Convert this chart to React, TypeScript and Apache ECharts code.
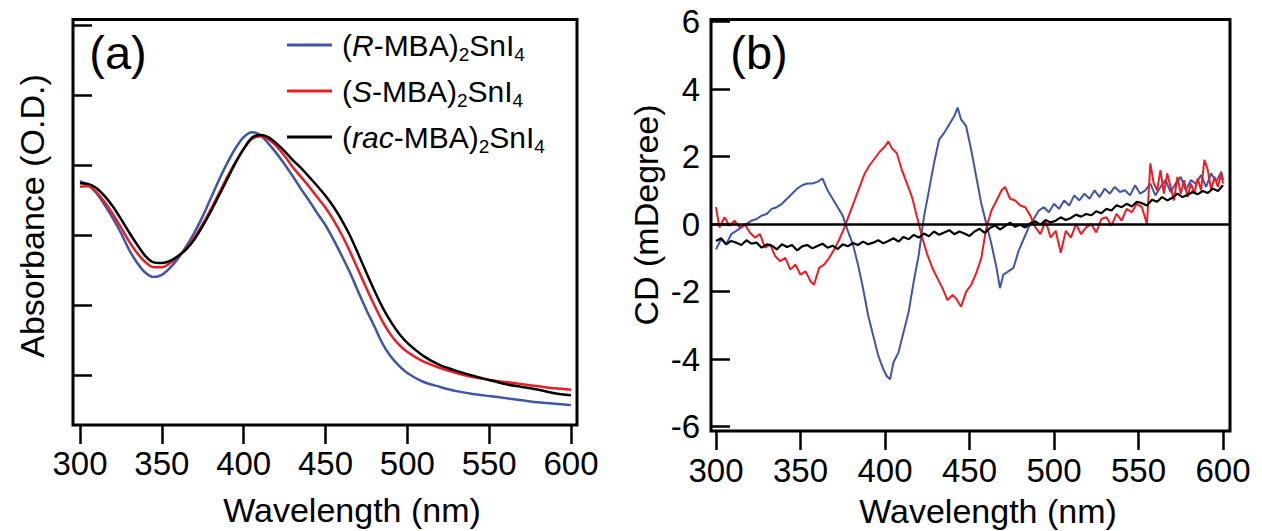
import React, { useEffect, useRef } from "react";
import * as echarts from "echarts";

const FONT = "'Liberation Sans', Arial, Helvetica, sans-serif";
const BLUE = "#3f55a6";
const RED = "#ec1c24";
const BLACK = "#000000";

// Series names
const seriesNames = ["(R-MBA)2SnI4", "(S-MBA)2SnI4", "(rac-MBA)2SnI4"];

// Tick values
const xTicks = [300, 350, 400, 450, 500, 550, 600];
const absTicks = [0.1, 0.2, 0.3, 0.4, 0.5, 0.6];
const cdTicks = [-6, -4, -2, 0, 2, 4, 6];

// Panel (a): absorbance
const absWl = [
  300, 305, 310, 315, 320, 325, 330, 335, 340, 345, 350, 355, 360, 365, 370, 375, 380, 385, 390, 395,
  400, 405, 410, 415, 420, 425, 430, 435, 440, 445, 450, 455, 460, 465, 470, 475, 480, 485, 490, 495,
  500, 510, 520, 530, 540, 550, 560, 570, 580, 590, 600,
];
const absR = [
  0.377, 0.371, 0.36, 0.343, 0.324, 0.303, 0.279, 0.26, 0.246, 0.24, 0.243, 0.253, 0.267, 0.284, 0.304,
  0.327, 0.353, 0.379, 0.403, 0.424, 0.44, 0.447, 0.443, 0.431, 0.417, 0.401, 0.384, 0.366, 0.349, 0.331,
  0.314, 0.293, 0.27, 0.246, 0.219, 0.193, 0.169, 0.144, 0.126, 0.113, 0.103, 0.09, 0.083, 0.077, 0.073,
  0.07, 0.067, 0.064, 0.061, 0.059, 0.057,
];
const absS = [
  0.369, 0.37, 0.361, 0.347, 0.33, 0.311, 0.291, 0.274, 0.261, 0.254, 0.254, 0.26, 0.27, 0.281, 0.297,
  0.316, 0.337, 0.36, 0.383, 0.404, 0.423, 0.437, 0.441, 0.437, 0.427, 0.413, 0.397, 0.383, 0.369, 0.354,
  0.339, 0.321, 0.3, 0.276, 0.25, 0.224, 0.199, 0.176, 0.157, 0.143, 0.133, 0.119, 0.11, 0.103, 0.097,
  0.093, 0.09, 0.087, 0.084, 0.081, 0.079,
];
const absRac = [
  0.374, 0.373, 0.367, 0.356, 0.341, 0.323, 0.304, 0.286, 0.27, 0.261, 0.26, 0.263, 0.27, 0.28, 0.294,
  0.313, 0.334, 0.357, 0.38, 0.403, 0.423, 0.439, 0.443, 0.44, 0.431, 0.42, 0.407, 0.396, 0.383, 0.37,
  0.356, 0.34, 0.321, 0.299, 0.273, 0.246, 0.22, 0.196, 0.176, 0.159, 0.146, 0.127, 0.114, 0.106, 0.099,
  0.093, 0.087, 0.083, 0.079, 0.074, 0.071,
];

// Panel (b): CD, [wavelength, mdeg]
const cdR: [number, number][] = [
  [300, -0.75], [303, -0.45], [306, -0.6], [309, -0.3], [312, -0.2], [315, -0.1], [318, 0.0], [321, 0.1],
  [324, 0.15], [327, 0.25], [330, 0.3], [333, 0.45], [336, 0.5], [339, 0.6], [342, 0.75], [345, 0.9],
  [348, 1.05], [351, 1.15], [354, 1.2], [357, 1.2], [360, 1.25], [363, 1.35], [366, 1.0], [369, 0.75],
  [372, 0.5], [375, 0.25], [378, -0.2], [381, -0.6], [384, -1.2], [387, -1.9], [390, -2.7], [393, -3.3],
  [396, -3.9], [399, -4.3], [401, -4.5], [403, -4.6], [405, -4.1], [408, -3.8], [411, -3.2], [414, -2.6],
  [417, -1.7], [420, -0.9], [423, 0.2], [426, 1.0], [429, 1.8], [432, 2.5], [435, 2.7], [438, 2.95],
  [441, 3.2], [443, 3.45], [445, 3.1], [448, 2.9], [451, 2.2], [454, 1.4], [457, 0.6], [460, 0.0],
  [463, -0.6], [466, -1.3], [468, -1.9], [470, -1.5], [473, -1.4], [476, -1.3], [479, -0.8], [482, -0.45],
  [485, -0.1], [488, 0.15], [491, 0.4], [494, 0.5], [497, 0.35], [500, 0.6], [503, 0.45], [506, 0.7],
  [509, 0.55], [512, 0.85], [515, 0.7], [518, 0.9], [521, 0.75], [524, 1.0], [527, 0.8], [530, 1.05],
  [533, 0.9], [536, 1.1], [539, 0.95], [542, 1.0], [545, 0.85], [548, 1.15], [551, 0.9], [554, 1.0],
  [557, 1.2], [560, 0.85], [563, 1.1], [566, 1.3], [569, 0.95], [572, 1.2], [575, 1.4], [578, 1.0],
  [581, 1.3], [584, 1.2], [587, 1.45], [590, 1.1], [593, 1.5], [596, 1.25], [599, 1.55], [600, 1.3],
];
const cdS: [number, number][] = [
  [300, 0.5], [302, -0.1], [305, 0.2], [308, -0.05], [311, 0.1], [314, -0.1], [317, 0.0], [320, -0.25],
  [323, -0.4], [326, -0.3], [329, -0.7], [332, -0.6], [335, -0.95], [338, -1.1], [341, -1.0], [344, -1.35],
  [347, -1.2], [350, -1.5], [353, -1.4], [356, -1.7], [358, -1.8], [361, -1.3], [364, -1.2], [367, -1.0],
  [370, -0.75], [373, -0.45], [376, -0.1], [379, 0.3], [382, 0.7], [385, 1.1], [388, 1.5], [391, 1.75],
  [394, 1.95], [397, 2.15], [400, 2.3], [402, 2.45], [404, 2.25], [407, 2.1], [410, 1.6], [413, 1.2],
  [416, 0.8], [419, 0.2], [422, -0.4], [425, -0.9], [428, -1.3], [431, -1.6], [434, -1.9], [437, -2.25],
  [440, -2.1], [442, -2.2], [445, -2.45], [448, -2.0], [451, -1.8], [454, -1.45], [457, -1.0], [460, -0.1],
  [463, 0.4], [466, 0.7], [469, 1.0], [471, 1.1], [474, 0.75], [477, 0.7], [480, 0.55], [483, 0.5],
  [486, 0.25], [489, -0.1], [492, -0.3], [495, 0.1], [498, -0.4], [501, -0.2], [504, -0.85], [507, -0.2],
  [510, -0.4], [513, 0.0], [516, -0.3], [519, -0.1], [522, 0.0], [525, -0.25], [528, 0.15], [531, 0.2],
  [534, -0.05], [537, 0.3], [540, 0.1], [543, 0.45], [546, 0.35], [549, 0.6], [552, 0.5], [555, 0.0],
  [557, 1.8], [559, 1.2], [561, 1.0], [563, 1.6], [565, 0.9], [567, 1.5], [569, 1.1], [571, 0.7],
  [573, 1.4], [575, 0.9], [577, 1.3], [579, 0.8], [581, 1.2], [583, 0.9], [585, 1.35], [587, 1.0],
  [589, 1.9], [591, 1.6], [593, 1.0], [595, 1.4], [597, 1.1], [599, 1.5], [600, 1.2],
];
const cdRac: [number, number][] = [
  [300, -0.5], [303, -0.42], [306, -0.6], [309, -0.5], [312, -0.55], [315, -0.62], [318, -0.48], [321, -0.58],
  [324, -0.55], [327, -0.7], [330, -0.6], [333, -0.64], [336, -0.75], [339, -0.6], [342, -0.68], [345, -0.62],
  [348, -0.78], [351, -0.66], [354, -0.62], [357, -0.72], [360, -0.65], [363, -0.58], [366, -0.7], [369, -0.64],
  [372, -0.74], [375, -0.6], [378, -0.66], [381, -0.56], [384, -0.62], [387, -0.52], [390, -0.6], [393, -0.55],
  [396, -0.48], [399, -0.57], [402, -0.5], [405, -0.42], [408, -0.52], [411, -0.38], [414, -0.45], [417, -0.32],
  [420, -0.4], [423, -0.28], [426, -0.36], [429, -0.22], [432, -0.32], [435, -0.25], [438, -0.18], [441, -0.3],
  [444, -0.22], [447, -0.28], [450, -0.35], [453, -0.22], [456, -0.14], [459, -0.26], [462, -0.12], [465, -0.04],
  [468, -0.16], [471, -0.06], [474, 0.04], [477, -0.08], [480, -0.02], [483, -0.1], [486, 0.02], [489, 0.08],
  [492, -0.02], [495, 0.12], [498, 0.05], [501, 0.1], [504, 0.2], [507, 0.12], [510, 0.18], [513, 0.28],
  [516, 0.22], [519, 0.3], [522, 0.26], [525, 0.38], [528, 0.32], [531, 0.45], [534, 0.4], [537, 0.56],
  [540, 0.5], [543, 0.6], [546, 0.52], [549, 0.66], [552, 0.62], [555, 0.55], [558, 0.72], [561, 0.66],
  [564, 0.8], [567, 0.7], [570, 0.78], [573, 0.9], [576, 0.8], [579, 0.86], [582, 0.95], [585, 0.88],
  [588, 0.98], [591, 0.92], [594, 1.05], [597, 0.98], [600, 1.15],
];

const legendRich: Record<string, string> = {
  "(R-MBA)2SnI4": "{n|(}{i|R}{n|-MBA)}{s|2}{n|SnI}{s|4}",
  "(S-MBA)2SnI4": "{n|(}{i|S}{n|-MBA)}{s|2}{n|SnI}{s|4}",
  "(rac-MBA)2SnI4": "{n|(}{i|rac}{n|-MBA)}{s|2}{n|SnI}{s|4}",
};

const zip = (xs: number[], ys: number[]) => xs.map((x, i) => [x, ys[i]]);

export default function App() {
  const ref = useRef<HTMLDivElement>(null);
  useEffect(() => {
    if (!ref.current) return;
    const chart = echarts.init(ref.current, undefined, { renderer: "svg" });

    const xAxisCommon = (idx: number, min: number, max: number, margin: number) => ({
      type: "value",
      gridIndex: idx,
      min,
      max,
      axisLine: { show: false, onZero: false },
      axisTick: {
        show: true,
        inside: false,
        length: 19,
        customValues: xTicks,
        lineStyle: { color: BLACK, width: 2.5 },
      },
      axisLabel: {
        show: true,
        customValues: xTicks,
        margin,
        fontSize: 33,
        fontFamily: FONT,
        color: BLACK,
      },
      splitLine: { show: false },
    });

    const line = (name: string, color: string, data: any, idx: number, width: number, smooth: any) => ({
      name,
      type: "line",
      xAxisIndex: idx,
      yAxisIndex: idx,
      data,
      symbol: "none",
      showSymbol: false,
      smooth,
      lineStyle: { color, width },
      itemStyle: { color },
      silent: true,
    });

    const option: any = {
      animation: false,
      backgroundColor: "#ffffff",
      grid: [
        { left: 73, top: 19.5, width: 504, height: 405.5, show: true, borderColor: BLACK, borderWidth: 3, backgroundColor: "transparent" },
        { left: 711, top: 19.5, width: 519, height: 411.5, show: true, borderColor: BLACK, borderWidth: 3, backgroundColor: "transparent" },
      ],
      xAxis: [xAxisCommon(0, 295.72, 603.67, 22), xAxisCommon(1, 297.04, 604.14, 23)],
      yAxis: [
        {
          type: "value",
          gridIndex: 0,
          min: 0.0286,
          max: 0.6079,
          axisLine: { show: false, onZero: false },
          axisTick: { show: true, inside: true, length: 19, customValues: absTicks, lineStyle: { color: BLACK, width: 2.5 } },
          axisLabel: { show: false },
          splitLine: { show: false },
        },
        {
          type: "value",
          gridIndex: 1,
          min: -6.13,
          max: 6.06,
          axisLine: { show: false, onZero: false },
          axisTick: { show: true, inside: true, length: 19, customValues: cdTicks, lineStyle: { color: BLACK, width: 2.5 } },
          axisLabel: { show: true, customValues: cdTicks, margin: 11, fontSize: 33, fontFamily: FONT, color: BLACK },
          splitLine: { show: false },
        },
      ],
      legend: {
        data: seriesNames,
        orient: "vertical",
        left: 282,
        top: 23,
        icon: "rect",
        itemWidth: 45,
        itemHeight: 3,
        itemGap: 10,
        selectedMode: false,
        formatter: (name: string) => legendRich[name],
        textStyle: {
          padding: [0, 0, 0, 5],
          rich: {
            n: { fontSize: 30, fontFamily: FONT, color: BLACK, lineHeight: 34 },
            i: { fontSize: 30, fontFamily: FONT, color: BLACK, fontStyle: "italic", lineHeight: 34 },
            s: { fontSize: 19, fontFamily: FONT, color: BLACK, lineHeight: 4, verticalAlign: "top", padding: [17, 0, 0, 0] },
          },
        },
      },
      series: [
        line(seriesNames[0], BLUE, zip(absWl, absR), 0, 2.5, 0.3),
        line(seriesNames[1], RED, zip(absWl, absS), 0, 2.5, 0.3),
        line(seriesNames[2], BLACK, zip(absWl, absRac), 0, 2.5, 0.3),
        line(seriesNames[0], BLUE, cdR, 1, 2, false),
        line(seriesNames[1], RED, cdS, 1, 2, false),
        {
          ...line(seriesNames[2], BLACK, cdRac, 1, 2.2, false),
          markLine: {
            silent: true,
            symbol: ["none", "none"],
            label: { show: false },
            lineStyle: { color: BLACK, width: 2.5, type: "solid" },
            data: [{ yAxis: 0 }],
          },
        },
      ],
      graphic: [
        { type: "text", x: 118, y: 52, style: { text: "(a)", fontSize: 47, fontFamily: FONT, fill: BLACK, align: "center", verticalAlign: "middle" } },
        { type: "text", x: 759, y: 52, style: { text: "(b)", fontSize: 47, fontFamily: FONT, fill: BLACK, align: "center", verticalAlign: "middle" } },
        { type: "text", x: 352, y: 510, style: { text: "Wavelength (nm)", fontSize: 34, fontFamily: FONT, fill: BLACK, align: "center", verticalAlign: "middle" } },
        { type: "text", x: 988, y: 511, style: { text: "Wavelength (nm)", fontSize: 34, fontFamily: FONT, fill: BLACK, align: "center", verticalAlign: "middle" } },
        { type: "text", x: 32, y: 216, rotation: Math.PI / 2, style: { text: "Absorbance (O.D.)", fontSize: 34, fontFamily: FONT, fill: BLACK, align: "center", verticalAlign: "middle" } },
        { type: "text", x: 646, y: 215, rotation: Math.PI / 2, style: { text: "CD (mDegree)", fontSize: 34, fontFamily: FONT, fill: BLACK, align: "center", verticalAlign: "middle" } },
      ],
    };
    chart.setOption(option);
    return () => chart.dispose();
  }, []);
  return <div ref={ref} style={{ position: "absolute", left: 0, top: 0, width: 1262, height: 531 }} />;
}
